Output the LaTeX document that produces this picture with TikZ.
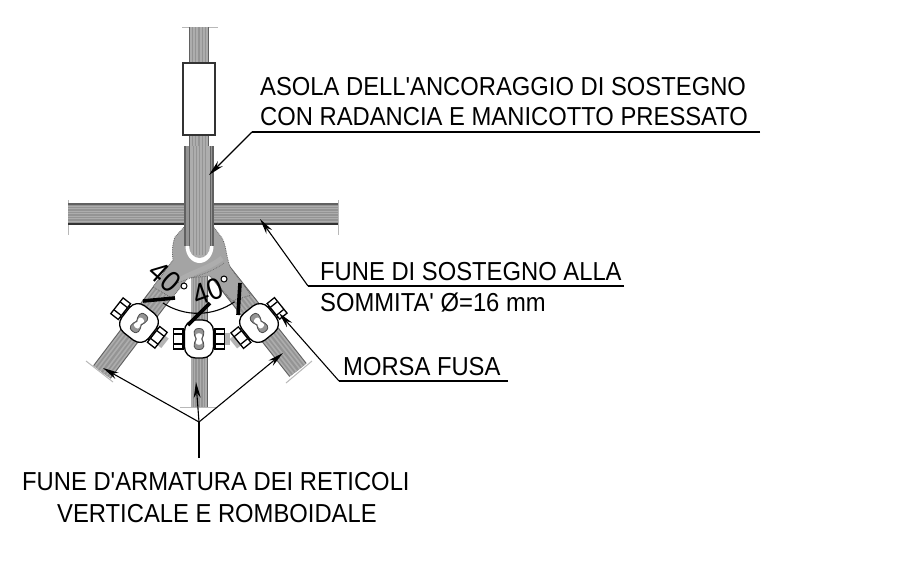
\documentclass[tikz,border=0pt]{standalone}
\usepackage{fontspec}
\newfontfamily\lab{Liberation Sans}
\usetikzlibrary{arrows.meta}
\definecolor{ropeD}{gray}{.38}
\definecolor{ropeM}{gray}{.58}
\definecolor{ropeL}{gray}{.68}
\definecolor{endgray}{gray}{.72}
\newcommand\rope[3]{\foreach \f/\c in {1/ropeD,.9/ropeL,.74/ropeM,.58/ropeL,.42/ropeM,.26/ropeL,.1/ropeM}{\draw[line width={\f*#3 pt},color=\c] #1 -- #2;}}
\newcommand\peanut{(0,-10.5) .. controls (6.5,-10.5) and (5.5,-5) .. (3,0) .. controls (5.5,5) and (6.5,10.5) .. (0,10.5) .. controls (-6.5,10.5) and (-5.5,5) .. (-3,0) .. controls (-5.5,-5) and (-6.5,-10.5) .. (0,-10.5) -- cycle}
% x, y, rotation, width, height, side of the grey stub
\newcommand\clampat[6]{\begin{scope}[shift={(#1,#2)},rotate=#3]
  \fill[ropeM!70!white,xscale=#6] (#4/2+8,-6) rectangle (#4/2+16,6);
  \foreach \s in {1,-1}{
  \draw[nut,xscale=\s] (#4/2-1,-7) rectangle (#4/2+1.5,7);
  \draw[nut,xscale=\s] (#4/2+1.5,-10) rectangle (#4/2+11,10);
  \draw[nut,xscale=\s] (#4/2+1.5,-5) -- (#4/2+11,-5) (#4/2+1.5,5) -- (#4/2+11,5);
  }
  \draw[clampbody] (-#4/2,-#5/2) rectangle (#4/2,#5/2);
  \draw[slot] \peanut;
  \fill[white,xscale=.62,yscale=.55] \peanut;
\end{scope}}
\newcommand\lbl[1]{\scalebox{.915}[1]{#1}}
\tikzset{
  txt/.style={font=\lab\fontsize{26}{28}\selectfont,inner sep=0,anchor=base west,text=black},
  lead/.style={line width=1.1pt,black},
  arr/.style={lead,-{Stealth[length=16pt,width=7pt]}},
  endline/.style={line width=1pt,endgray},
  nut/.style={line width=1.3pt,black,fill=white},
  clampbody/.style={line width=1.3pt,black,fill=white,rounded corners=11pt},
  slot/.style={line width=.8pt,black!70,fill=ropeM},
  tick/.style={line width=3.6pt,black},
  dimtxt/.style={font=\lab\fontsize{30}{32}\selectfont,inner sep=0,text=black},
  sleeve/.style={line width=1.3pt,black!80,fill=white},
}
\begin{document}
\begin{tikzpicture}[x=1pt,y=-1pt]
\useasboundingbox (0,0) rectangle (900,573);
\fill[white] (0,0) rectangle (900,573);
% coordinates
\coordinate (top) at (199,27);
\coordinate (lEnd) at (102,372); \coordinate (lIn) at (190,256);
\coordinate (rEnd) at (298,370); \coordinate (rIn) at (208,256);
\coordinate (cEnd) at (199,407); \coordinate (cIn) at (199,262);
% end lines
\draw[endline] (182,27) -- (218,27);
\draw[endline] (68,200) -- (68,235);
\draw[endline] (338,200) -- (338,235);
\draw[endline] (86,361) -- (113,382);
\draw[endline] (312,361) -- (286,383);
\draw[endline] (180,407) -- (217,407);
% horizontal rope
\fill[ropeM] (68,204) rectangle (338,224);
\foreach \y in {206,208.5,...,222}{\draw[line width=1pt,ropeL] (68,\y) -- (338,\y);}
\draw[line width=1.2pt,ropeD] (68,204) -- (338,204);
\draw[line width=1.6pt,black!80] (68,224) -- (338,224);
% wires
\rope{(lEnd)}{(lIn)}{22}
\rope{(rEnd)}{(rIn)}{22}
\rope{(cEnd)}{(cIn)}{17}
% clamp body
\draw[fill=ropeM!85!white,line width=.8pt,densely dotted,draw=black!60]
  (185,226) -- (175,237) .. controls (172,245) and (172,252) .. (173,260) -- (153,287)
  -- (172,298) -- (188,278) -- (210,276) -- (232,301) -- (251,295)
  -- (230,267) .. controls (226,255) and (226,245) .. (222,238) -- (213,226) -- cycle;
\draw[line width=5pt,ropeL] (178,281) .. controls (192,272) and (210,268) .. (222,258);
\draw[line width=.7pt,black!60,densely dotted] (175,284) .. controls (190,277) and (208,275) .. (224,263);
% thimble
\fill[white] (185.5,246) -- (213.5,246) arc[start angle=0,end angle=180,x radius=14,y radius=17] -- cycle;
% top rope
\rope{(top)}{(199,146)}{20}
\fill[ropeD] (184,146) rectangle (214,246);
\fill[ropeM] (186,146) rectangle (212,246);
\fill[ropeL] (189,146) rectangle (210,247);
\fill[ropeL] (210,246) arc[start angle=0,end angle=180,x radius=10.5,y radius=12] -- cycle;
\foreach \x in {193,196,...,205}{\draw[line width=1pt,ropeM] (\x,146) -- (\x,255);}
\draw[line width=1pt,ropeD] (189,146) -- (189,246) (210,146) -- (210,246);
\draw[sleeve] (183,63) rectangle (215,135);
% clamps
\clampat{139}{323}{-38}{34}{34}{1}
\clampat{199}{339}{0}{29}{38}{1}
\clampat{259}{323}{39}{34}{34}{-1}
% small circles
\draw[line width=1pt,black,fill=white] (184,286) circle[radius=3];
\draw[line width=1pt,black,fill=white] (224,279) circle[radius=3];
% dimension
\draw[line width=1.1pt,black] (163,303) arc[start angle=123,end angle=55,radius=64];
\draw[tick] (143,301) -- (175,298);
\draw[tick] (188,325) -- (210,303);
\draw[tick] (240,283) -- (238,315);
\node[dimtxt,rotate=-42] (dimA) at (165,277) {\scalebox{.9}[1]{40}};
\node[dimtxt,rotate=20] (dimB) at (208,292) {\scalebox{.9}[1]{40}};
% labels
\node[txt] (t1a) at (260,95) {\lbl{ASOLA DELL'ANCORAGGIO DI SOSTEGNO}};
\node[txt] (t1b) at (260,125) {\lbl{CON RADANCIA E MANICOTTO PRESSATO}};
\node[txt] (t2a) at (320,280) {\lbl{FUNE DI SOSTEGNO ALLA}};
\node[txt] (t2b) at (320,311) {\lbl{SOMMITA' Ø=16 mm}};
\node[txt] (t3) at (343,375) {\lbl{MORSA FUSA}};
\node[txt] (t4a) at (22,490) {\lbl{FUNE D'ARMATURA DEI RETICOLI}};
\node[txt] (t4b) at (57,522) {\lbl{VERTICALE E ROMBOIDALE}};
% leaders
\coordinate (a1) at (209,175); \coordinate (c1) at (252,132); \coordinate (e1) at (760,132);
\coordinate (a2) at (260,219); \coordinate (c2) at (308,286); \coordinate (e2) at (624,286);
\coordinate (a3) at (279,313); \coordinate (c3) at (339,381); \coordinate (e3) at (508,381);
\coordinate (hub) at (199,422); \coordinate (hubE) at (199,458);
\coordinate (a4) at (103,368); \coordinate (a5) at (196,382); \coordinate (a6) at (283,353);
\draw[lead] (e1) -- (c1); \draw[arr] (c1) -- (a1);
\draw[lead] (e2) -- (c2); \draw[arr] (c2) -- (a2);
\draw[lead] (e3) -- (c3); \draw[arr] (c3) -- (a3);
\draw[lead] (hubE) -- (hub);
\draw[arr] (hub) -- (a4);
\draw[arr] (hub) -- (a5);
\draw[arr] (hub) -- (a6);
\end{tikzpicture}
\end{document}
